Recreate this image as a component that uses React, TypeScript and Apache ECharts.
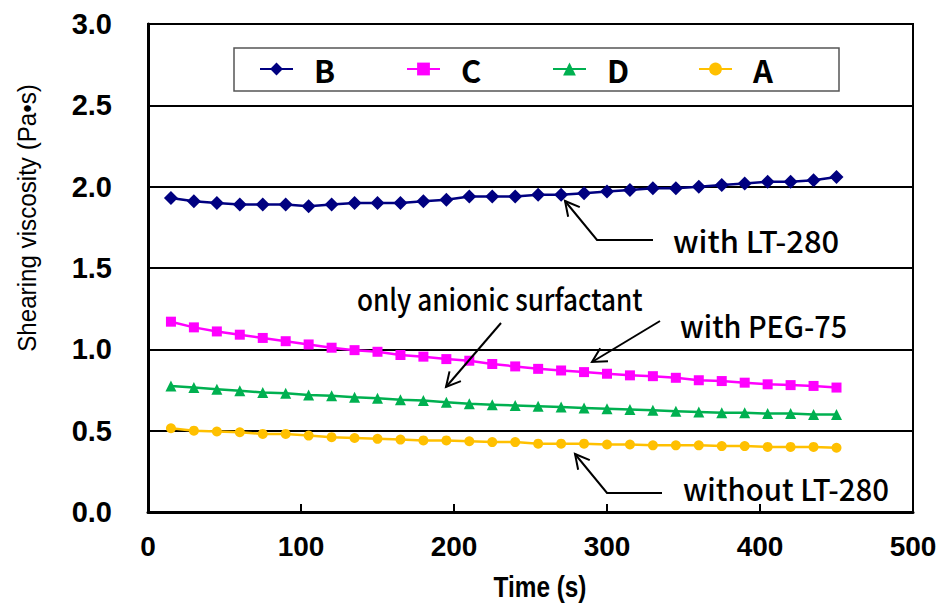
import React, { useEffect, useRef } from "react";
import * as echarts from "echarts";

const times = [15, 30, 45, 60, 75, 90, 105, 120, 135, 150, 165, 180, 195, 210, 225, 240, 255, 270, 285, 300, 315, 330, 345, 360, 375, 390, 405, 420, 435, 450];
const seriesB = [1.93, 1.91, 1.90, 1.89, 1.89, 1.89, 1.88, 1.89, 1.90, 1.90, 1.90, 1.91, 1.92, 1.94, 1.94, 1.94, 1.95, 1.95, 1.96, 1.97, 1.98, 1.99, 1.99, 2.00, 2.01, 2.02, 2.03, 2.03, 2.04, 2.06];
const seriesC = [1.17, 1.135, 1.11, 1.09, 1.07, 1.05, 1.03, 1.01, 0.995, 0.985, 0.965, 0.955, 0.94, 0.93, 0.91, 0.895, 0.88, 0.87, 0.86, 0.85, 0.84, 0.835, 0.825, 0.81, 0.805, 0.795, 0.785, 0.78, 0.775, 0.765];
const seriesD = [0.775, 0.765, 0.755, 0.745, 0.735, 0.73, 0.72, 0.715, 0.705, 0.70, 0.69, 0.685, 0.675, 0.665, 0.66, 0.655, 0.65, 0.645, 0.64, 0.635, 0.63, 0.625, 0.62, 0.615, 0.61, 0.61, 0.605, 0.605, 0.60, 0.60];
const seriesA = [0.515, 0.50, 0.495, 0.49, 0.48, 0.48, 0.47, 0.46, 0.455, 0.45, 0.445, 0.44, 0.44, 0.435, 0.43, 0.43, 0.42, 0.42, 0.42, 0.415, 0.415, 0.41, 0.41, 0.41, 0.405, 0.405, 0.40, 0.40, 0.40, 0.395];

const seriesNames = ["B", "C", "D", "A"];
const seriesColors = ["#000080", "#FF00FF", "#00B050", "#FFC000"];
const seriesSymbols = ["diamond", "rect", "triangle", "circle"];
const seriesSizes = [14, 10, 11, 10];
const seriesValues = [seriesB, seriesC, seriesD, seriesA];

const xTicks = { min: 0, max: 500, interval: 100 };
const yTicks = { min: 0, max: 3, interval: 0.5 };

const annotationTexts = ["with LT-280", "with PEG-75", "only anionic surfactant", "without LT-280"];

const ANNO_FONT = '"Noto Sans CJK JP", "Noto Sans", sans-serif';

function arrow(points: number[][], headLen = 16, angleDeg = 28) {
  const n = points.length;
  const tip = points[n - 1];
  const prev = points[n - 2];
  const dx = prev[0] - tip[0];
  const dy = prev[1] - tip[1];
  const len = Math.hypot(dx, dy);
  const ux = dx / len, uy = dy / len;
  const a = (angleDeg * Math.PI) / 180;
  const w1 = [tip[0] + headLen * (ux * Math.cos(a) - uy * Math.sin(a)), tip[1] + headLen * (ux * Math.sin(a) + uy * Math.cos(a))];
  const w2 = [tip[0] + headLen * (ux * Math.cos(-a) - uy * Math.sin(-a)), tip[1] + headLen * (ux * Math.sin(-a) + uy * Math.cos(-a))];
  const style = { stroke: "#000", lineWidth: 2, fill: null };
  return [
    { type: "polyline", shape: { points }, style, z: 10 },
    { type: "polyline", shape: { points: [w1, tip, w2] }, style, z: 10 },
  ];
}

function annoText(text: string, x: number, y: number, scaleX = 1) {
  return {
    type: "text",
    x,
    y,
    scaleX,
    z: 10,
    style: {
      text,
      fontSize: 30,
      fontFamily: ANNO_FONT,
      fontWeight: 500,
      fill: "#000",
      textAlign: "left",
      textVerticalAlign: "middle",
    },
  };
}

export default function App() {
  const ref = useRef<HTMLDivElement>(null);

  useEffect(() => {
    document.body.style.margin = "0";
    const chart = echarts.init(ref.current!, null, { renderer: "svg" });

    const legendLefts = [259, 406, 552, 698];

    const option: any = {
      animation: false,
      backgroundColor: "#fff",
      grid: {
        left: 148,
        right: 36,
        top: 24,
        bottom: 92,
        show: true,
        borderColor: "#000",
        borderWidth: 2,
      },
      legend: seriesNames.map((name, i) => ({
        data: [name],
        left: legendLefts[i],
        top: 53,
        padding: 0,
        itemWidth: 33,
        itemHeight: 16,
        selectedMode: false,
        z: 6,
        textStyle: {
          fontFamily: ANNO_FONT,
          fontWeight: "bold",
          fontSize: 31,
          lineHeight: 32,
          color: "#000",
          padding: [0, 0, 0, 16],
        },
      })),
      xAxis: {
        type: "value",
        min: xTicks.min,
        max: xTicks.max,
        interval: xTicks.interval,
        axisLine: { show: true, lineStyle: { color: "#000", width: 3 } },
        axisTick: { show: true, inside: true, length: 8, lineStyle: { color: "#000", width: 2 } },
        splitLine: { show: false },
        axisLabel: {
          fontFamily: '"Liberation Sans", Arial, sans-serif',
          fontWeight: "bold",
          fontSize: 28,
          color: "#000",
          margin: 20,
        },
      },
      yAxis: {
        type: "value",
        min: yTicks.min,
        max: yTicks.max,
        interval: yTicks.interval,
        axisLine: { show: true, lineStyle: { color: "#000", width: 3 } },
        axisTick: { show: false },
        splitLine: { show: true, lineStyle: { color: "#000", width: 2 } },
        axisLabel: {
          fontFamily: '"Liberation Sans", Arial, sans-serif',
          fontWeight: "bold",
          fontSize: 29,
          color: "#000",
          margin: 36,
          formatter: (v: number) => v.toFixed(1),
        },
      },
      series: seriesNames.map((name, i) => ({
        name,
        type: "line",
        data: times.map((t, j) => [t, seriesValues[i][j]]),
        symbol: seriesSymbols[i],
        symbolSize: seriesSizes[i],
        lineStyle: { color: seriesColors[i], width: 2.5 },
        itemStyle: { color: seriesColors[i] },
        z: 3 + (3 - i),
      })),
      graphic: [
        {
          type: "rect",
          shape: { x: 234, y: 48, width: 605, height: 43 },
          style: { fill: "#fff", stroke: "#555", lineWidth: 1.5 },
          z: 3,
        },
        {
          type: "text",
          x: 27,
          y: 218,
          rotation: Math.PI / 2,
          scaleX: 0.93,
          z: 10,
          style: {
            text: "Shearing viscosity (Pa\u2022s)",
            fontSize: 26,
            fontFamily: '"Liberation Sans", Arial, sans-serif',
            fill: "#000",
            textAlign: "center",
            textVerticalAlign: "middle",
          },
        },
        {
          type: "text",
          x: 540,
          y: 587,
          scaleX: 0.84,
          z: 10,
          style: {
            text: "Time (s)",
            fontSize: 29,
            fontWeight: "bold",
            fontFamily: '"Liberation Sans", Arial, sans-serif',
            fill: "#000",
            textAlign: "center",
            textVerticalAlign: "middle",
          },
        },
        annoText(annotationTexts[0], 673, 240, 1.03),
        ...arrow([[653, 240], [597, 240], [565, 201]]),
        annoText(annotationTexts[1], 680, 325, 0.96),
        ...arrow([[660, 321], [592, 362]]),
        annoText(annotationTexts[2], 357, 298, 0.87),
        ...arrow([[501, 323], [446, 387]]),
        annoText(annotationTexts[3], 683, 488, 0.98),
        ...arrow([[662, 493], [607, 493], [575, 454]]),
      ],
    };

    chart.setOption(option);
    return () => chart.dispose();
  }, []);

  return <div ref={ref} style={{ width: 949, height: 604 }} />;
}
